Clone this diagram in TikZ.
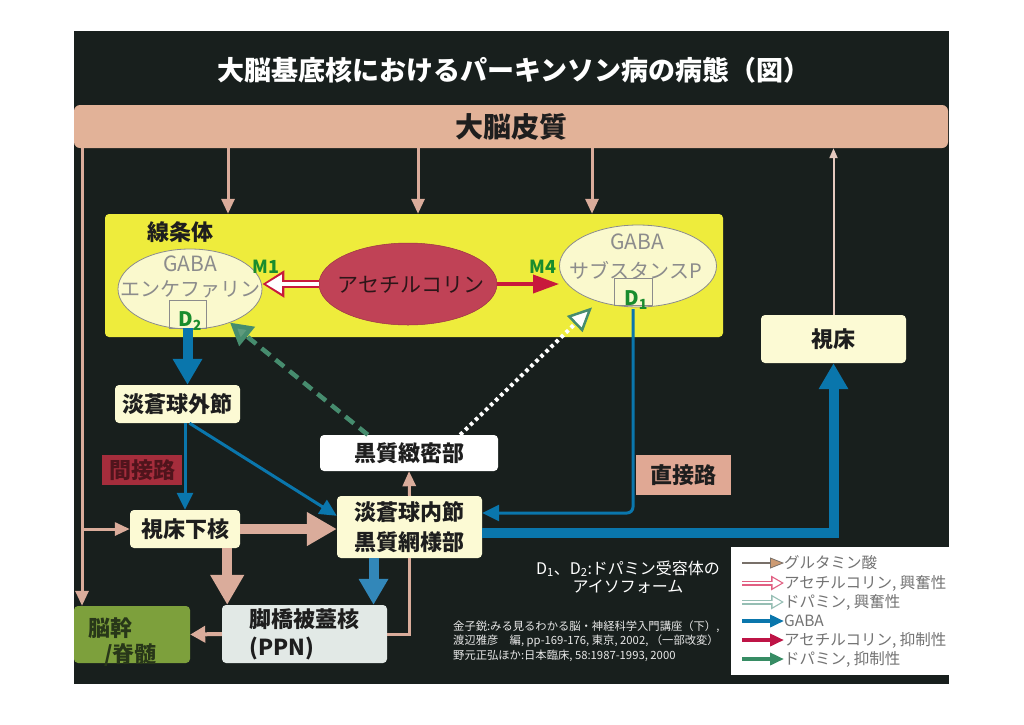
\documentclass[tikz,border=0pt]{standalone}
\usepackage{fontspec}
\setmainfont{Noto Sans CJK JP}
\usetikzlibrary{arrows.meta,shapes.geometric,calc}
\definecolor{bg}{RGB}{24,31,29}
\definecolor{peach}{RGB}{226,178,152}
\definecolor{pk}{RGB}{218,172,155}
\definecolor{pklt}{RGB}{228,200,190}
\definecolor{stryel}{RGB}{238,236,60}
\definecolor{ltyel}{RGB}{252,250,212}
\definecolor{ellfill}{RGB}{250,249,205}
\definecolor{ellgray}{RGB}{140,140,140}
\definecolor{achfill}{RGB}{192,66,86}
\definecolor{achtxt}{RGB}{45,22,25}
\definecolor{achred}{RGB}{200,25,60}
\definecolor{gb}{RGB}{10,118,172}
\definecolor{gblt}{RGB}{50,135,185}
\definecolor{mgreen}{RGB}{25,140,45}
\definecolor{dpgreen}{RGB}{70,140,110}
\definecolor{dphead}{RGB}{95,155,125}
\definecolor{txt}{RGB}{30,30,30}
\definecolor{indfill}{RGB}{165,45,60}
\definecolor{indtxt}{RGB}{80,20,28}
\definecolor{dirfill}{RGB}{224,168,148}
\definecolor{bsfill}{RGB}{125,160,60}
\definecolor{bstext}{RGB}{40,55,25}
\definecolor{ppnfill}{RGB}{226,233,230}
\definecolor{legtxt}{RGB}{115,115,115}
\definecolor{glushaft}{RGB}{120,112,105}
\definecolor{glutip}{RGB}{205,155,115}
\definecolor{achpink}{RGB}{225,95,130}
\definecolor{dplt}{RGB}{150,190,180}
\definecolor{dpleg}{RGB}{55,140,100}
\definecolor{crimleg}{RGB}{190,20,70}
\definecolor{refwhite}{RGB}{232,232,232}
\tikzset{
  box/.style={fill=ltyel, rounded corners=4pt, inner sep=0pt, text=txt, align=center, font=\bfseries\fontsize{22}{30}\selectfont},
  ell/.style={ellipse, draw=ellgray, line width=0.8pt, fill=ellfill, inner sep=0pt},
  elltext/.style={text=ellgray, inner sep=0pt, font=\fontsize{21}{25}\selectfont},
  rbox/.style={draw=ellgray, line width=0.7pt, inner sep=0pt},
  rlab/.style={text=mgreen, inner sep=0pt, font=\bfseries\fontsize{20}{24}\selectfont},
  glut/.style={draw=pk, line width=3pt, -{Triangle[length=15pt,width=13pt]}},
  gluthin/.style={draw=pklt, line width=2pt, -{Triangle[length=10pt,width=8pt]}},
  glutthick/.style={draw=pk, line width=10pt, -{Triangle[length=30pt,width=32pt]}},
  gabathin/.style={draw=gb, line width=3pt, -{Triangle[length=17pt,width=16pt]}},
  gabathick/.style={draw=gb, line width=10pt, -{Triangle[length=26pt,width=28pt]}},
  achout/.style={draw=achred, line width=8pt, -{Triangle[length=22pt,width=26pt]}},
  achin/.style={draw=white, line width=4pt, shorten >=3.5pt, -{Triangle[length=16pt,width=18pt]}},
  achinh/.style={draw=achred, line width=3.5pt, -{Triangle[length=26pt,width=18pt]}},
  dpinh/.style={draw=dpgreen, line width=4.5pt, dash pattern=on 11pt off 7pt, -{Triangle[length=22pt,width=24pt,fill=dphead]}},
  dpexc/.style={draw=white, line width=4pt, dash pattern=on 3.5pt off 3.5pt, -{Triangle[length=24pt,width=22pt,fill=white,color=dpgreen,line width=2.5pt 0]}},
  legtext/.style={anchor=west, inner sep=0pt, text=legtxt, font=\fontsize{15.5}{18}\selectfont},
}
\begin{document}
\begin{tikzpicture}[x=1pt,y=-1pt]
\fill[white] (0,0) rectangle (1024,724);
\useasboundingbox (0,0) rectangle (1024,724);
\fill[bg] (74,31) rectangle (949,684);

% title and cortex
\node[text=white, font=\bfseries\fontsize{27}{32}\selectfont] (title) at (514,70) {大脳基底核におけるパーキンソン病の病態（図）};
\node[fill=peach, rounded corners=6pt, minimum width=874pt, minimum height=43pt, inner sep=0pt, text=txt, font=\bfseries\fontsize{28}{32}\selectfont] (cortex) at (511,126.5) {大脳皮質};

% striatum
\node[fill=stryel, rounded corners=4pt, minimum width=618pt, minimum height=123pt, inner sep=0pt] (str) at (414,275.5) {};
\node[anchor=west, inner sep=0pt, text=txt, font=\bfseries\fontsize{22}{26}\selectfont] (strlab) at (147,232) {線条体};

\node[ell, minimum width=144pt, minimum height=80pt] (le) at (190,289) {};
\node[elltext] (lega) at (190,264) {GABA};
\node[elltext, font=\fontsize{20}{24}\selectfont] (lee) at (190,289) {エンケファリン};
\node[rbox, minimum width=37pt, minimum height=28pt] (d2box) at (187.5,314) {};
\node[rlab] (d2) at (190,321) {D\textsubscript{2}};
\node[rlab, font=\bfseries\fontsize{18}{22}\selectfont] (m1) at (266,267) {M1};

\node[ellipse, fill=achfill, draw=achfill!80!black, line width=0.5pt, minimum width=178pt, minimum height=82pt, inner sep=0pt] (ach) at (408,284) {};
\node[text=achtxt, inner sep=0pt, font=\fontsize{21}{25}\selectfont] (achlab) at (411,285) {アセチルコリン};

\node[ell, minimum width=157pt, minimum height=82pt] (re) at (638,266) {};
\node[elltext] (rega) at (637,242) {GABA};
\node[elltext, font=\fontsize{20}{24}\selectfont] (res) at (636,270) {サブスタンスP};
\node[rbox, minimum width=38pt, minimum height=27pt] (d1box) at (633,291.5) {};
\node[rlab] (d1) at (636,300) {D\textsubscript{1}};
\node[rlab, font=\bfseries\fontsize{18}{22}\selectfont] (m4) at (543,267) {M4};

% boxes
\node[box, minimum width=145pt, minimum height=48pt] (thal) at (833.5,339) {視床};
\node[box, minimum width=125pt, minimum height=38pt] (gpe) at (177.5,404) {淡蒼球外節};
\node[box, fill=indfill, text=indtxt, rounded corners=0pt, minimum width=80pt, minimum height=30pt] (ind) at (142,470) {間接路};
\node[box, minimum width=110pt, minimum height=38pt] (stn) at (185,529) {視床下核};
\node[box, fill=white, minimum width=178pt, minimum height=36pt] (snc) at (409,453) {黒質緻密部};
\node[box, minimum width=145pt, minimum height=62pt] (gpi) at (409.5,527) {淡蒼球内節\\黒質網様部};
\node[box, fill=dirfill, rounded corners=0pt, minimum width=95pt, minimum height=40pt] (dir) at (683.5,475) {直接路};
\node[box, fill=ppnfill, align=left, minimum width=165pt, minimum height=58pt, font=\bfseries\fontsize{22}{28}\selectfont] (ppn) at (304.5,634) {脚橋被蓋核\\(PPN)};
\node[box, fill=bsfill, minimum width=116pt, minimum height=57pt] (bs) at (132,634.5) {};
\node[anchor=west, inner sep=0pt, text=bstext, font=\bfseries\fontsize{22}{26}\selectfont] (bs1) at (88,628) {脳幹};
\node[anchor=west, inner sep=0pt, text=bstext, font=\bfseries\fontsize{22}{26}\selectfont] (bs2) at (104,655) {/脊髄};

% cortex connectors
\coordinate (cL) at (82,0);
\coordinate (c1) at (228,0);
\coordinate (c2) at (418,0);
\coordinate (c3) at (592,0);
\draw[glut] (cL |- cortex.south) -- (cL |- bs.north);
\draw[glut] (cL |- stn.west) -- (stn.west);
\draw[glut] (c1 |- cortex.south) -- (c1 |- str.north);
\draw[glut] (c2 |- cortex.south) -- (c2 |- str.north);
\draw[glut] (c3 |- cortex.south) -- (c3 |- str.north);
\draw[gluthin] (thal.north) -- (thal.north |- cortex.south);

% striatum internal
\draw[achout] (ach.west) -- (ach.west -| le.east);
\draw[achin] (ach.west) -- (ach.west -| le.east);
\draw[achinh] (ach.east) -- (ach.east -| re.west);

% pathways
\draw[gabathick] (d2box.south) -- (d2box.south |- gpe.north);
\draw[gabathin] (gpe.south -| stn.north) -- (stn.north);
\draw[gabathin] ($(gpe.south)+(12,0)$) -- ($(gpi.north west)+(0,20)$);
\draw[glutthick] (stn.east) -- (stn.east -| gpi.west);
\coordinate (sx) at ($(stn.south east)+(-13,0)$);
\draw[glutthick] (sx) -- (sx |- ppn.north);
\draw[glut] (gpi.north) -- (snc.south);
\coordinate (gx) at ($(gpi.south)+(-36,0)$);
\draw[gabathick, draw=gblt] (gx) -- (gx |- ppn.north);
\draw[draw=pk, line width=3pt] (gpi.south) |- (ppn.east);
\draw[glut, line width=4pt, -{Triangle[length=15pt,width=16pt]}] (ppn.west) -- (bs.east);
\coordinate (dturn) at (633,513);
\draw[gabathin, rounded corners=6pt] (d1box.south |- d1.south) -- (dturn) -- (dturn -| gpi.east);
\draw[gabathick] ($(gpi.east)+(0,6)$) -| (thal.south);
\draw[dpinh] ($(snc.north west)+(48,0)$) -- (le.-40);
\draw[dpexc] ($(snc.north east)+(-38,0)$) -- ($(re.south)+(-46,0)$);

% notes
\node[text=white, align=center, font=\fontsize{16}{18}\selectfont] (note) at (628,577) {D\textsubscript{1}、D\textsubscript{2}:ドパミン受容体の\\アイソフォーム};
\node[text=refwhite, align=left, anchor=west, inner sep=0pt, font=\fontsize{11.3}{14.5}\selectfont] (refs) at (453,641) {金子鋭:みる見るわかる脳・神経科学入門講座（下）,\\渡辺雅彦\quad 編, pp-169-176, 東京, 2002, （一部改変）\\野元正弘ほか:日本臨床, 58:1987-1993, 2000};

% legend
\node[fill=white, minimum width=218pt, minimum height=128pt, inner sep=0pt] (leg) at (840,611) {};
\node[legtext] (l1) at (784,563) {グルタミン酸};
\node[legtext] (l2) at (784,583) {アセチルコリン, 興奮性};
\node[legtext] (l3) at (784,602) {ドパミン, 興奮性};
\node[legtext] (l4) at (784,621) {GABA};
\node[legtext] (l5) at (784,640) {アセチルコリン, 抑制性};
\node[legtext] (l6) at (784,659) {ドパミン, 抑制性};
\coordinate (a1) at (742,563);
\coordinate (a2) at (742,583);
\coordinate (a3) at (742,602);
\coordinate (a4) at (742,621);
\coordinate (a5) at (742,640);
\coordinate (a6) at (742,659);
\draw[draw=glushaft, line width=2.5pt, -{Triangle[length=14pt,width=11pt,fill=glutip,color=glushaft,line width=0.8pt 0]}] (a1) -- (l1.west);
\draw[draw=achpink, line width=5pt, -{Triangle[length=13pt,width=14pt]}] (a2) -- (l2.west);
\draw[draw=white, line width=2.2pt, shorten >=2.4pt, -{Triangle[length=9pt,width=9.5pt]}] (a2) -- (l2.west);
\draw[draw=dplt, line width=5pt, -{Triangle[length=13pt,width=14pt]}] (a3) -- (l3.west);
\draw[draw=white, line width=2.2pt, shorten >=2.4pt, -{Triangle[length=9pt,width=9.5pt]}] (a3) -- (l3.west);
\draw[draw=gb, line width=4pt, -{Triangle[length=14pt,width=12pt]}] (a4) -- (l4.west);
\draw[draw=crimleg, line width=4pt, -{Triangle[length=14pt,width=12pt]}] (a5) -- (l5.west);
\draw[draw=dpleg, line width=4pt, -{Triangle[length=14pt,width=12pt]}] (a6) -- (l6.west);
\end{tikzpicture}
\end{document}
